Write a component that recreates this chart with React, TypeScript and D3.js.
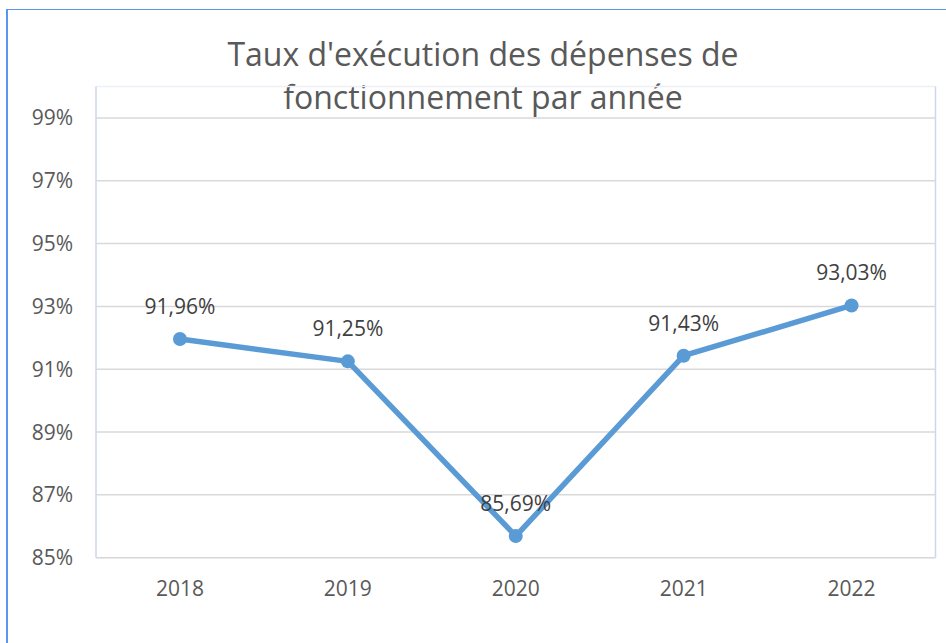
import * as d3 from 'd3';

const years = ['2018', '2019', '2020', '2021', '2022'];
const rates = [0.9196, 0.9125, 0.8569, 0.9143, 0.9303];
const yTicks = [0.85, 0.87, 0.89, 0.91, 0.93, 0.95, 0.97, 0.99];
const titleLines = ["Taux d'exécution des dépenses de", 'fonctionnement par année'];

const fr = d3.formatLocale({ decimal: ',', thousands: ' ', grouping: [3], currency: ['', ' €'] });
const fmtLabel = fr.format('.2%');
const fmtTick = fr.format('.0%');

export default function App() {
  const width = 946;
  const height = 643;
  const plot = { left: 96, right: 935.5, top: 86.5, bottom: 557.7 };
  const font = "'Open Sans', 'Noto Sans', sans-serif";

  const xScale = d3.scaleBand().domain(years).range([plot.left, plot.right]);
  const yScale = d3.scaleLinear().domain([0.85, 1.0]).range([plot.bottom, plot.top]);
  const cx = (y: string) => xScale(y)! + xScale.bandwidth() / 2;

  const line = d3
    .line<number>()
    .x((_, i) => cx(years[i]))
    .y((d) => yScale(d));

  return (
    <svg
      width={width}
      height={height}
      style={{ position: 'absolute', left: 0, top: 0, background: '#fff' }}
      fontFamily={font}
    >
      {/* outer frame */}
      <line x1={6} x2={width} y1={9.5} y2={9.5} stroke="#5b95ee" strokeWidth={1.2} />
      <line x1={7} x2={7} y1={9} y2={height} stroke="#5b95ee" strokeWidth={2} />

      {/* title */}
      {titleLines.map((t, i) => (
        <text key={i} x={483} y={66 + i * 43} textAnchor="middle" fontSize={32} fill="#595959">
          {t}
        </text>
      ))}

      {/* plot area border */}
      <line x1={plot.left} x2={plot.right} y1={plot.top} y2={plot.top} stroke="#eef0f8" strokeWidth={1.5} />
      <line x1={plot.left} x2={plot.left} y1={plot.top} y2={plot.bottom} stroke="#cdd6ee" strokeWidth={1.5} />
      <line x1={plot.right} x2={plot.right} y1={plot.top} y2={plot.bottom} stroke="#cdd6ee" strokeWidth={1.5} />

      {/* gridlines + y labels */}
      {yTicks.map((t) => (
        <g key={t}>
          <line
            x1={plot.left}
            x2={plot.right}
            y1={yScale(t)}
            y2={yScale(t)}
            stroke={t === 0.85 ? '#d6d6dc' : '#d9d9d9'}
            strokeWidth={1.5}
          />
          <text x={73} y={yScale(t)} dy="0.36em" textAnchor="end" fontSize={21} fill="#595959">
            {fmtTick(t)}
          </text>
        </g>
      ))}

      {/* x labels */}
      {years.map((y) => (
        <text key={y} x={cx(y)} y={596} textAnchor="middle" fontSize={21} fill="#595959">
          {y}
        </text>
      ))}

      {/* series */}
      <path d={line(rates) ?? ''} fill="none" stroke="#5b9bd5" strokeWidth={5.5} strokeLinejoin="round" />
      {rates.map((v, i) => (
        <circle key={i} cx={cx(years[i])} cy={yScale(v)} r={7} fill="#5b9bd5" />
      ))}
      {rates.map((v, i) => (
        <text key={i} x={cx(years[i])} y={yScale(v) - 25} textAnchor="middle" fontSize={21} fill="#404040">
          {fmtLabel(v)}
        </text>
      ))}
    </svg>
  );
}
